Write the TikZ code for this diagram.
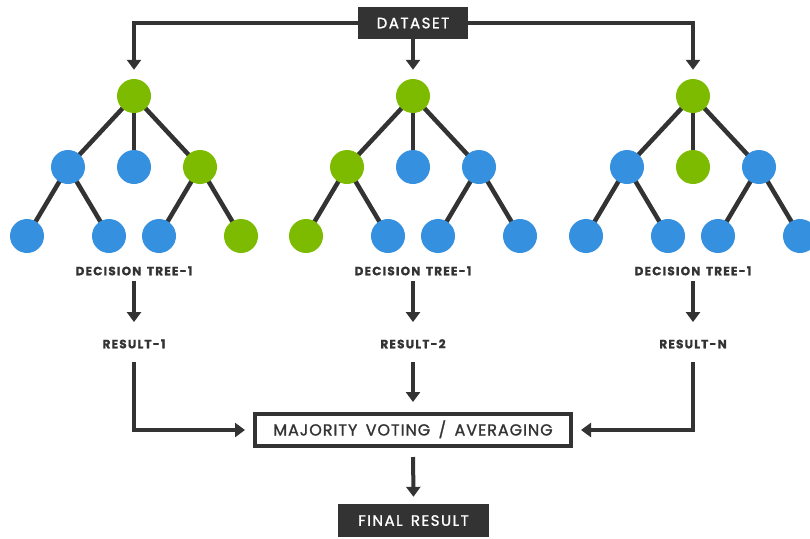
\documentclass[tikz,border=0pt]{standalone}
\usepackage{fontspec}
\setmainfont{Poppins}
\newfontfamily\lblfont[LetterSpace=10,FakeBold=1.2,WordSpace=1.8]{Poppins}
\newfontfamily\boxfont[LetterSpace=10,FakeBold=1.2,WordSpace=1.5]{Poppins}
\newfontfamily\votefont[LetterSpace=6,FakeBold=1.2,WordSpace=1.6]{Poppins}
\usetikzlibrary{arrows.meta,backgrounds}
\definecolor{tgreen}{HTML}{7DBB00}
\definecolor{tblue}{HTML}{3590DF}
\definecolor{dark}{HTML}{333333}
\begin{document}
\begin{tikzpicture}[x=1pt,y=-1pt,
  nodeg/.style={circle,fill=tgreen,minimum size=34pt,inner sep=0pt},
  nodeb/.style={circle,fill=tblue,minimum size=34pt,inner sep=0pt},
  edge/.style={draw=dark,line width=4.5pt},
  arr/.style={draw=dark,line width=4pt,-{Triangle[width=14pt,length=10pt]}},
  lbl/.style={font=\lblfont\bfseries\fontsize{12}{14}\selectfont,text=dark,inner sep=0pt,text height=8.5pt,text depth=0pt},
  darkbox/.style={fill=dark,text=white,font=\boxfont\fontsize{15}{17}\selectfont,inner sep=0pt,text height=10.5pt,text depth=0pt},
  votebox/.style={draw=dark,line width=4pt,fill=white,text=dark,font=\votefont\fontsize{16}{18}\selectfont,inner sep=0pt,minimum width=316pt,minimum height=32pt,text height=11pt,text depth=0pt}
]
\useasboundingbox (0,0) rectangle (810,538);

\node[darkbox,minimum width=110pt,minimum height=32pt] (ds) at (413,23) {DATASET};

\foreach \t/\x/\ca/\cb/\cc/\cd/\ce/\cf/\cg/\ch/\r in
  {1/134/g/b/b/g/b/b/b/g/RESULT-1,
   2/413/g/g/b/b/g/b/b/b/RESULT-2,
   3/693/g/b/g/b/b/b/b/b/RESULT-N}{
  \node[node\ca] (r\t) at (\x,96) {};
  \node[node\cb] (a\t) at (\x-66,167) {};
  \node[node\cc] (b\t) at (\x,167) {};
  \node[node\cd] (c\t) at (\x+66,167) {};
  \node[node\ce] (la\t) at (\x-107,236) {};
  \node[node\cf] (lb\t) at (\x-25,236) {};
  \node[node\cg] (lc\t) at (\x+25,236) {};
  \node[node\ch] (ld\t) at (\x+107,236) {};
  \begin{scope}[on background layer]
    \draw[edge] (r\t.center) -- (a\t.center);
    \draw[edge] (r\t.center) -- (b\t.center);
    \draw[edge] (r\t.center) -- (c\t.center);
    \draw[edge] (a\t.center) -- (la\t.center);
    \draw[edge] (a\t.center) -- (lb\t.center);
    \draw[edge] (c\t.center) -- (lc\t.center);
    \draw[edge] (c\t.center) -- (ld\t.center);
  \end{scope}
  \node[lbl] (t\t) at (\x,271) {DECISION TREE-1};
  \node[lbl] (res\t) at (\x,344) {\r};
  \draw[arr,shorten <=5.5pt,shorten >=17.5pt] (t\t.south) -- (res\t.north);
}

\draw[arr,shorten >=9pt] (ds.west) -| (r1.north);
\draw[arr,shorten >=9pt] (ds.east) -| (r3.north);
\draw[arr,shorten >=9pt] (ds.south) -- (r2.north);

\node[votebox] (maj) at (413,430) {MAJORITY VOTING / AVERAGING};
\node[darkbox,minimum width=151pt,minimum height=33pt] (fin) at (413.5,520.5) {FINAL RESULT};

\draw[arr,shorten <=13.5pt,shorten >=8pt] (res1.south) |- (maj.west);
\draw[arr,shorten <=13.5pt,shorten >=8pt] (res3.south) |- (maj.east);
\draw[arr,shorten <=13.5pt,shorten >=10pt] (res2.south) -- (maj.north);
\draw[arr,shorten <=9pt,shorten >=7pt] (maj.south) -- (fin.north);
\end{tikzpicture}
\end{document}
